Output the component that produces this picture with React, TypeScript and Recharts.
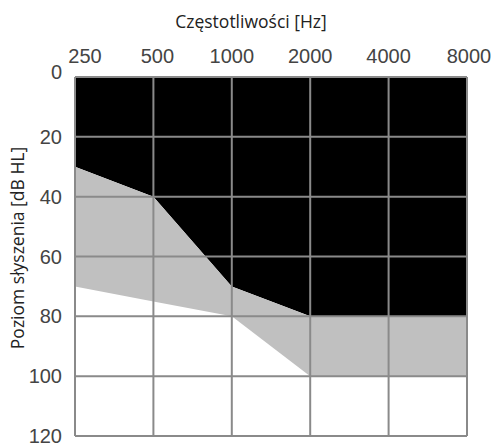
import React from 'react'
import { Area, AreaChart, Label, ReferenceLine, XAxis, YAxis } from 'recharts'

const frequencies = ['250', '500', '1000', '2000', '4000', '8000']
// dB HL: edge of the black zone and of the grey zone
const upperLimit = [30, 40, 70, 80, 80, 80]
const lowerLimit = [70, 75, 80, 100, 100, 100]
const levelTicks = [0, 20, 40, 60, 80, 100, 120]

const data = frequencies.map((f, i) => ({
  freq: f,
  black: upperLimit[i],
  grey: lowerLimit[i] - upperLimit[i],
}))

const tickFont = '"Liberation Sans", Arial, sans-serif'
const titleFont = '"Open Sans", sans-serif'
const gridColor = '#8a8a8a'
const xNudge = [10, 4, 0, 0, 0, 2]

const FreqTick = (props: any) => {
  const { x, payload, index } = props
  return (
    <text x={x + (xNudge[index] ?? 0)} y={63} textAnchor='middle' fontSize={20} fontFamily={tickFont} fill='#444'>
      {payload.value}
    </text>
  )
}

const LevelTick = (props: any) => {
  const { y, payload } = props
  const dy = payload.value === 0 ? -5 : 0
  return (
    <text x={62} y={y + dy + 7} textAnchor='end' fontSize={20} fontFamily={tickFont} fill='#444'>
      {payload.value}
    </text>
  )
}

export default function Audiogram() {
  return (
    <div style={{ position: 'absolute', left: 0, top: 0 }}>
      <AreaChart width={496} height={443} data={data} margin={{ top: 0, right: 29, bottom: 7, left: 0 }}>
        <XAxis dataKey='freq' orientation='top' height={77} axisLine={false} tickLine={false} tick={<FreqTick />} interval={0}>
          <Label
            content={({ viewBox }: any) => (
              <text x={251} y={viewBox.y + 28} textAnchor='middle' fontSize={17.5} fontFamily={titleFont} fill='#222'>
                Częstotliwości [Hz]
              </text>
            )}
          />
        </XAxis>
        <YAxis type='number' domain={[0, 120]} ticks={levelTicks} reversed width={75} axisLine={false} tickLine={false} tick={<LevelTick />} interval={0}>
          <Label
            content={() => {
              const cx = 24
              const cy = 248
              return (
                <text x={cx} y={cy} transform={`rotate(-90 ${cx} ${cy})`} textAnchor='middle' fontSize={17.5} fontFamily={titleFont} fill='#222'>
                  Poziom słyszenia [dB HL]
                </text>
              )
            }}
          />
        </YAxis>
        <Area type='linear' dataKey='black' stackId='a' fill='#000' fillOpacity={1} stroke='none' isAnimationActive={false} />
        <Area type='linear' dataKey='grey' stackId='a' fill='#c0c0c0' fillOpacity={1} stroke='none' isAnimationActive={false} />
        {frequencies.map(f => (
          <ReferenceLine key={'v' + f} x={f} stroke={gridColor} strokeWidth={2} />
        ))}
        {levelTicks.map(t => (
          <ReferenceLine key={'h' + t} y={t} stroke={gridColor} strokeWidth={2} />
        ))}
      </AreaChart>
    </div>
  )
}
